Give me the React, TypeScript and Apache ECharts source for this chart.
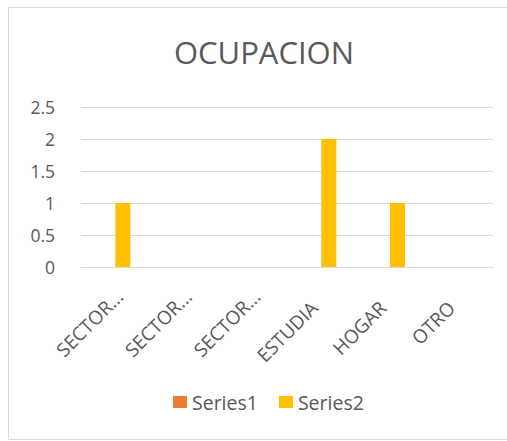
import React, { useEffect, useRef } from "react";
import * as echarts from "echarts";

const categories = ["SECTOR...", "SECTOR...", "SECTOR...", "ESTUDIA", "HOGAR", "OTRO"];
const series1 = [0, 0, 0, 0, 0, 0];
const series2 = [1, 0, 0, 2, 1, 0];
const yTicks = { min: 0, max: 2.5, interval: 0.5 };

const FONT = "'Open Sans', 'Noto Sans', sans-serif";
const TXT = "#595959";

export default function App() {
  const ref = useRef<HTMLDivElement>(null);
  useEffect(() => {
    if (!ref.current) return;
    const chart = echarts.init(ref.current, null, { renderer: "svg" });
    chart.setOption({
      animation: false,
      backgroundColor: "#ffffff",
      title: {
        text: "OCUPACION",
        left: 259,
        top: 31,
        textAlign: "center",
        textStyle: { fontFamily: FONT, fontSize: 31, fontWeight: "normal", color: TXT },
      },
      graphic: [
        {
          type: "rect",
          shape: { x: 8.5, y: 7.5, width: 510, height: 432 },
          style: { fill: "none", stroke: "#d9d9d9", lineWidth: 1 },
          silent: true,
        },
      ],
      legend: {
        left: 168,
        top: 387,
        itemWidth: 14,
        itemHeight: 12,
        itemGap: 21,
        icon: "rect",
        textStyle: { fontFamily: FONT, fontSize: 19.5, color: TXT },
        data: ["Series1", "Series2"],
      },
      grid: { left: 81, right: 14, top: 107, bottom: 174, containLabel: false },
      xAxis: {
        type: "category",
        data: categories,
        axisLine: { show: true, lineStyle: { color: "#d9d9d9", width: 1 } },
        axisTick: { show: false },
        axisLabel: {
          rotate: 45,
          interval: 0,
          margin: 22,
          padding: [12, 0, 0, 0],
          fontFamily: FONT,
          fontSize: 19,
          color: TXT,
          formatter: (v: string) => (v.indexOf("...") >= 0 ? "{s|" + v + "}" : "{n|" + v + "}"),
          rich: {
            s: { fontFamily: FONT, fontSize: 19, color: TXT, padding: [0, 0, 0, 0] },
            n: { fontFamily: FONT, fontSize: 19, color: TXT, padding: [0, 16, 0, 0] },
          },
        },
      },
      yAxis: {
        type: "value",
        min: yTicks.min,
        max: yTicks.max,
        interval: yTicks.interval,
        axisLine: { show: false },
        axisTick: { show: false },
        splitLine: { lineStyle: { color: "#d9d9d9", width: 1 } },
        axisLabel: { margin: 26, fontFamily: FONT, fontSize: 17.5, color: TXT },
      },
      series: [
        {
          name: "Series1",
          type: "bar",
          data: series1,
          barWidth: 15,
          barGap: "0%",
          itemStyle: { color: "#ED7D31" },
        },
        {
          name: "Series2",
          type: "bar",
          data: series2,
          barWidth: 15,
          barGap: "0%",
          itemStyle: { color: "#FFC000" },
        },
      ],
    });
    return () => chart.dispose();
  }, []);
  return (
    <div
      ref={ref}
      style={{ position: "absolute", left: 0, top: 0, width: 507, height: 441 }}
    />
  );
}
